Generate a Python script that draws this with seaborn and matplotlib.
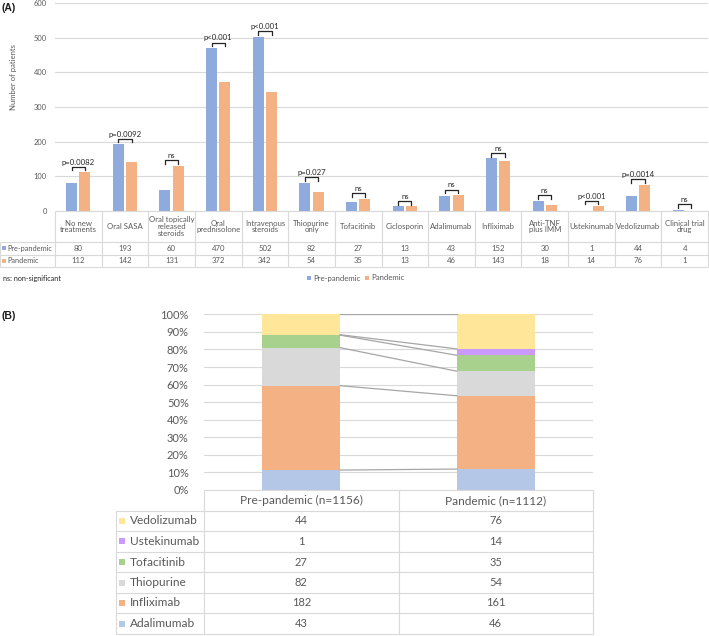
import matplotlib
matplotlib.use("Agg")
import matplotlib.pyplot as plt
from matplotlib.patches import Rectangle
import numpy as np
import pandas as pd
import seaborn as sns

# ---------------- data ----------------
categories = ["No new\ntreatments", "Oral SASA", "Oral topically\nreleased\nsteroids",
              "Oral\nprednisolone", "Intravenous\nsteroids", "Thiopurine\nonly",
              "Tofacitinib", "Ciclosporin", "Adalimumab", "Infliximab",
              "Anti-TNF\nplus IMM", "Ustekinumab", "Vedolizumab", "Clinical trial\ndrug"]
pre_pandemic = [80, 193, 60, 470, 502, 82, 27, 13, 43, 152, 30, 1, 44, 4]
pandemic = [112, 142, 131, 372, 342, 54, 35, 13, 46, 143, 18, 14, 76, 1]
p_labels = ["p=0.0082", "p=0.0092", "ns", "p<0.001", "p<0.001", "p=0.027", "ns",
            "ns", "ns", "ns", "ns", "p<0.001", "p=0.0014", "ns"]
series_a = ["Pre-pandemic", "Pandemic"]

b_groups = ["Pre-pandemic (n=1156)", "Pandemic (n=1112)"]
b_drugs = ["Adalimumab", "Infliximab", "Thiopurine", "Tofacitinib", "Ustekinumab", "Vedolizumab"]
b_pre = [43, 182, 82, 27, 1, 44]
b_pan = [46, 161, 54, 35, 14, 76]

# ---------------- style ----------------
W, H = 709, 636
plt.rcParams["font.family"] = ["Lato", "DejaVu Sans"]
GRAY_T = "#595959"
GRID = "#d9d9d9"
col_a = {"Pre-pandemic": "#8faadc", "Pandemic": "#f4b183"}
col_b = {"Adalimumab": "#b4c7e7", "Infliximab": "#f4b183", "Thiopurine": "#d9d9d9",
         "Tofacitinib": "#a9d18e", "Ustekinumab": "#cc99ff", "Vedolizumab": "#ffe699"}
FA = 5.6     # panel A text size
FB = 8.6     # panel B label size
FBN = 8.0    # panel B number size

fig = plt.figure(figsize=(W / 100, H / 100), dpi=100)
fig.patch.set_facecolor("white")

def fpos(x0, y0, x1, y1):
    return [x0 / W, 1 - y1 / H, (x1 - x0) / W, (y1 - y0) / H]

# ---------------- panel A ----------------
A_L, A_R, A_T, A_B = 55, 708, 3, 211
ax = fig.add_axes(fpos(A_L, A_T, A_R, A_B))
df_a = pd.DataFrame({
    "cat": categories * 2,
    "series": [series_a[0]] * len(categories) + [series_a[1]] * len(categories),
    "n": pre_pandemic + pandemic,
})
sns.barplot(data=df_a, x="cat", y="n", hue="series", order=categories, hue_order=series_a,
            palette=col_a, saturation=1, width=0.57, gap=0.17, errorbar=None,
            legend=False, linewidth=0, ax=ax)
ax.set_xlim(-0.5, len(categories) - 0.5)
ax.set_ylim(0, 600)
ax.set_yticks(np.arange(0, 601, 100))
ax.tick_params(axis="y", length=0, labelsize=5.4, labelcolor=GRAY_T, pad=6)
ax.set_xticks([])
ax.set_xlabel("")
ax.set_ylabel("")
ax.grid(axis="y", color=GRID, lw=0.8)
ax.set_axisbelow(True)
for s in ax.spines.values():
    s.set_visible(False)

off = 0.1425
for i, lab in enumerate(p_labels):
    top = max(pre_pandemic[i], pandemic[i]) + 16
    ax.plot([i - off, i - off, i + off, i + off], [top - 11, top, top, top - 11],
            color="#262626", lw=0.9, clip_on=False)
    ax.text(i, top + 3, lab, ha="center", va="bottom", fontsize=FA, color="#262626")

# ---------------- panel B ----------------
B_L, B_R, B_T, B_B = 204, 593, 314.3, 490
axb = fig.add_axes(fpos(B_L, B_T, B_R, B_B))
tot_pre, tot_pan = sum(b_pre), sum(b_pan)
cum_pre = np.cumsum(b_pre) / tot_pre
cum_pan = np.cumsum(b_pan) / tot_pan
for k in range(len(b_drugs) - 1, -1, -1):
    d = pd.DataFrame({"g": b_groups, "v": [cum_pre[k], cum_pan[k]]})
    sns.barplot(data=d, x="g", y="v", order=b_groups, color=col_b[b_drugs[k]],
                saturation=1, width=0.4, errorbar=None, linewidth=0, ax=axb)
for k in range(len(b_drugs)):
    axb.plot([0.2, 0.8], [cum_pre[k], cum_pan[k]], color="#a6a6a6", lw=0.9, zorder=5)
axb.set_xlim(-0.5, 1.5)
axb.set_ylim(0, 1)
axb.set_yticks(np.arange(0, 1.01, 0.1))
axb.set_yticklabels([f"{int(round(v * 100))}%" for v in np.arange(0, 1.01, 0.1)])
axb.tick_params(axis="y", length=0, labelsize=FBN, labelcolor=GRAY_T, pad=11)
axb.set_xticks([])
axb.set_xlabel("")
axb.set_ylabel("")
axb.grid(axis="y", color=GRID, lw=0.8)
axb.set_axisbelow(True)
for s in axb.spines.values():
    s.set_visible(False)

# ---------------- overlay (tables, labels) ----------------
ov = fig.add_axes([0, 0, 1, 1], facecolor="none")
ov.set_xlim(0, W)
ov.set_ylim(H, 0)
ov.axis("off")

def hline(x0, x1, y, c=GRID, lw=0.8):
    ov.plot([x0, x1], [y, y], color=c, lw=lw, solid_capstyle="butt")

def vline(x, y0, y1, c=GRID, lw=0.8):
    ov.plot([x, x], [y0, y1], color=c, lw=lw, solid_capstyle="butt")

ov.text(2, 8, "(A)", fontsize=7.5, fontweight="bold", family=["Liberation Sans"],
        ha="left", va="center", color="#1a1a1a")
ov.text(2, 316, "(B)", fontsize=7.5, fontweight="bold", family=["Liberation Sans"],
        ha="left", va="center", color="#1a1a1a")
ov.text(14, 77, "Number of patients", rotation=90, fontsize=FA, color=GRAY_T,
        ha="center", va="center")

# table A
colw = (A_R - A_L) / len(categories)
r0, r1, r2, r3 = 211, 242, 254.5, 267
hline(A_L, A_R, r0)
hline(0, A_R, r1)
hline(0, A_R, r2)
hline(0, A_R, r3)
vline(0, r1, r3)
for k in range(len(categories) + 1):
    vline(A_L + k * colw, r0, r3)
for i, c in enumerate(categories):
    xc = A_L + (i + 0.5) * colw
    ov.text(xc, (r0 + r1) / 2, c, ha="center", va="center", fontsize=FA,
            color=GRAY_T, linespacing=0.98)
    ov.text(xc, (r1 + r2) / 2, str(pre_pandemic[i]), ha="center", va="center",
            fontsize=FA, color=GRAY_T)
    ov.text(xc, (r2 + r3) / 2, str(pandemic[i]), ha="center", va="center",
            fontsize=FA, color=GRAY_T)
for j, (s, yy) in enumerate(zip(series_a, [(r1 + r2) / 2, (r2 + r3) / 2])):
    ov.add_patch(Rectangle((2, yy - 2), 4, 4, color=col_a[s], lw=0))
    ov.text(7.5, yy, s, ha="left", va="center", fontsize=5.3, color=GRAY_T)

ov.text(3, 278, "ns: non-significant", ha="left", va="center", fontsize=5.2, color="#262626")
# legend A
for s, lx in zip(series_a, [307, 365]):
    ov.add_patch(Rectangle((lx, 276), 4, 4, color=col_a[s], lw=0))
    ov.text(lx + 6, 278, s, ha="left", va="center", fontsize=FA, color=GRAY_T)

# table B
TL = 115.7
rows_y = [490, 510.7, 531, 551.7, 572.3, 592.7, 613.3, 634]
colx = [B_L, (B_L + B_R) / 2, B_R]
hline(B_L, B_R, rows_y[0])
for y in rows_y[1:]:
    hline(TL, B_R, y)
vline(TL, rows_y[1], rows_y[-1])
for x in colx:
    vline(x, rows_y[0], rows_y[-1])
for g, x in enumerate(b_groups):
    ov.text((colx[g] + colx[g + 1]) / 2, (rows_y[0] + rows_y[1]) / 2, x,
            ha="center", va="center", fontsize=FB, color=GRAY_T)
order_rows = list(range(len(b_drugs) - 1, -1, -1))
for r, k in enumerate(order_rows):
    yc = (rows_y[r + 1] + rows_y[r + 2]) / 2
    ov.add_patch(Rectangle((119, yc - 3), 6, 6, color=col_b[b_drugs[k]], lw=0))
    ov.text(130, yc, b_drugs[k], ha="left", va="center", fontsize=FB, color=GRAY_T)
    ov.text((colx[0] + colx[1]) / 2, yc, str(b_pre[k]), ha="center", va="center",
            fontsize=FBN, color=GRAY_T)
    ov.text((colx[1] + colx[2]) / 2, yc, str(b_pan[k]), ha="center", va="center",
            fontsize=FBN, color=GRAY_T)

fig.savefig("out.png", dpi=100, facecolor="white")
